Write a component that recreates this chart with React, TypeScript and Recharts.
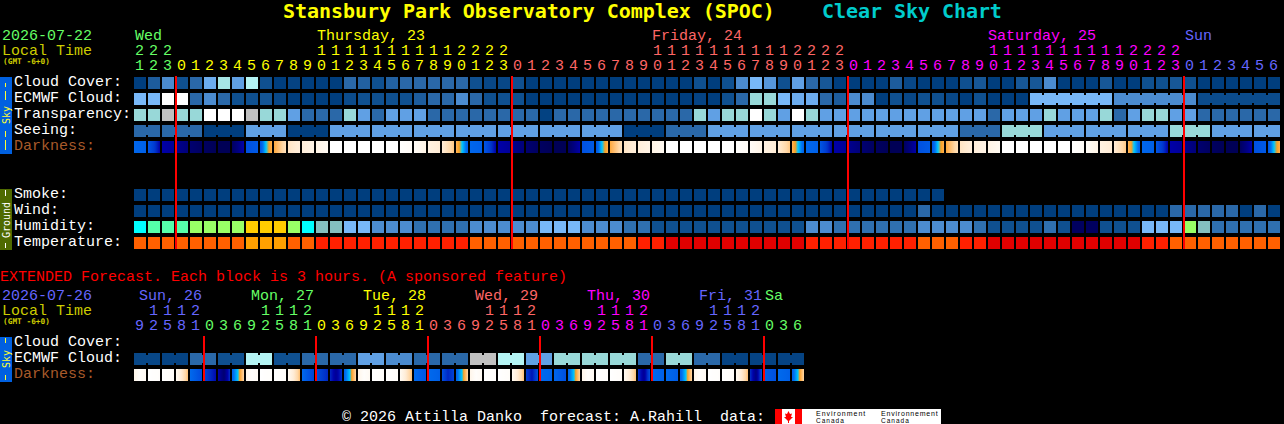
import React from "react";
import { ScatterChart, Scatter, XAxis, YAxis, ReferenceLine } from "recharts";

/* ---------- hours and day captions ---------- */
const mainHours = [21,22,23,0,1,2,3,4,5,6,7,8,9,10,11,12,13,14,15,16,17,18,19,20,21,22,23,0,1,2,3,4,5,6,7,8,9,10,11,12,13,14,15,16,17,18,19,20,21,22,23,0,1,2,3,4,5,6,7,8,9,10,11,12,13,14,15,16,17,18,19,20,21,22,23,0,1,2,3,4,5,6];
const extHours = [9,12,15,18,21,0,3,6,9,12,15,18,21,0,3,6,9,12,15,18,21,0,3,6,9,12,15,18,21,0,3,6,9,12,15,18,21,0,3,6,9,12,15,18,21,0,3,6];
const mainDayCols = [0,13,37,61,75];
const mainDayNames = ["Wed","Thursday, 23","Friday, 24","Saturday, 25","Sun"];
const mainDayStarts = [0,3,27,51,75];
const extDayCols = [0,8,16,24,32,40,45];
const extDayNames = ["Sun, 26","Mon, 27","Tue, 28","Wed, 29","Thu, 30","Fri, 31","Sa"];
const extDayStarts = [0,5,13,21,29,37,45];
const mainMidnights = [3,27,51,75];
const extMidnights = [5,13,21,29,37,45];

/* ---------- sky rows, values are cloud-scale levels ---------- */
const cloudCover = [0,1.5,3,1,2,4.5,6.5,4,7,1,0,0.3,0,0,0,2,1.7,1,1.7,2,2,2,2,2,1,0.5,0.5,1,0,0,0,0,0,0,0,0,0,0,0,0,1,0,1,3,5,3.5,1,4,2,1.3,0,0,0,0,1.5,0.5,0,0,0,1,1.3,0,0,1.3,1.3,3,0,0,0,1.3,0,0,1,1,1.3,1,0,0,0,0,0,0];
const ecmwfCloud = [5,5,8,8,2,3,2,1,1,1.2,0.5,0,0,0,0,0.7,1,1,1,1,1.5,2,2,3,2,1,1,1,0,0,0,0,0,0,0,0,0,0,0,0,0.3,0,1,2,6,6,5,4.5,4.5,2,1.5,3,3,0,1,0.5,1,1,0.5,0,1,0,0,0,5,5,5,5,5,5,3,3,3,3,3,3,0.7,0.7,0.7,0.7,0.7,0.7];
const ecmwfRuns = [1,1,1,1,1,1,1,1,1,1,1,1,1,1,1,1,1,1,1,1,1,1,1,1,1,1,1,1,1,1,1,1,1,1,1,1,1,1,1,1,1,1,1,1,1,1,1,1,1,1,1,1,1,1,1,1,1,1,1,1,1,1,1,1,6,6,6];
const transparency = [6,6,9,6,6,8,8,8,9,6,6,4,2,2,2,6,4,2,4,4,4,2,2,2,2,2,2,2,2,0.2,2,2,2,2,2,2,2,2,2,2,6,4,6,6,8,6,4,8,6,4,4,4,4,4,4,4,4,4,4,4,4,2,4,4,4,6,4,4,4,6,2,4,6,6,4,4,2,2,2,2,2,2];
const seeing = [2,2,2,2,2,0,0,0,4,4,4,0,0,0,4,4,4,4,4,4,4,4,4,4,4,4,4,4,4,4,4,4,4,4,4,0,0,0,2,2,2,4,4,4,4,4,4,4,4,4,4,4,4,4,4,4,4,4,4,2,2,2,6,6,6,4,4,4,4,4,4,4,4,4,6,6,6,4,4,4,4,4];
const seeingRuns = [2,3,3,3,3,3,3,3,3,3,3,3,3,3,3,3,3,3,3,3,3,3,3,3,3,3,3,2];
/* darkness: samples across one block, 0 = full sun, 12 = moonless night */
const darkness = [
  [6.3,6.5],[6.8,7.6,9],[9,9.4],[9.6,10.2],[10.5,11],[11,11.4],[11.4,11.4],[11,10,9],[7,6.7],[6.9,5,4],[4.2,2.6],[2.4,1.8],[1.8,1.2],[1.2,0.6],[0,0],[0,0],[0,0],[0,0],[0,0],[0.1,0.4],[0.4,1.2],[1.4,2],[2,3.4],[3.9,5,6.5],
  [6.3,6.5],[6.8,7.6,9],[9,9.4],[9.6,10.2],[10.5,11],[11,11.4],[11.4,11.4],[11,10,9],[7,6.7],[6.9,5,4],[4.2,2.6],[2.4,1.8],[1.8,1.2],[1.2,0.6],[0,0],[0,0],[0,0],[0,0],[0,0],[0.1,0.4],[0.4,1.2],[1.4,2],[2,3.4],[3.9,5,6.5],
  [6.3,6.5],[6.8,7.6,9],[9,9.4],[9.6,10.2],[10.5,11],[11,11.4],[11.4,11.4],[11,10,9],[7,6.7],[6.9,5,4],[4.2,2.6],[2.4,1.8],[1.8,1.2],[1.2,0.6],[0,0],[0,0],[0,0],[0,0],[0,0],[0.1,0.4],[0.4,1.2],[1.4,2],[2,3.4],[3.9,5,6.5],
  [6.3,6.5],[6.8,7.6,9],[9,9.4],[9.6,10.2],[10.5,11],[11,11.4],[11.4,11.4],[11,10,9],[7,6.7],[6.9,5,4],
];

/* ---------- ground rows ---------- */
const smoke = [0,0,0,0,0,0,0,0,0,0,0,0,0,0,0,0,0,0,0,0,0,0,0,0,0,0,0,0,0,0,0,0,0,0,0,0,0,0,0,0,0,0,0,0,0,0,0,0,0,0,0,0,0,0,0,0,0,0];
const wind = [0,0,0,0,0,0,0,0,0,0,0,0,0,0,0,0,0,0,0,0,0,0,0,0,0,0,0,0,0,0,0,0,0,0,0,0,0,0,0,0,0,0,0,0,0,0,0,0,0,0,0,0,0,0,0,0,2,0,0,0,0,0,0,0,0,0,0,0,0,0,0,0,0,0,2,2,2,2,2,0,2,0];
const humidity = [6,7,7,7,8,8,8,8,9,9,9,8,6,5,5,4,4,3,3,3,2,2,2,2,3,3,3,3,3,4,4,4,3,3,3,2,2,1,1,1,1,1,1,1,1,1,1,1,3,3,2,2,2,2,2,2,3,3,3,3,2,1,1,1,1,2,1,0,0,1,1,1,4,4,4,8,5,2,2,2,2,2];
const temperature = [2,2,2,2,2,2,2,2,3,3,3,2,2,1,1,1,1,1,1,1,1,1,1,1,2,2,2,2,2,2,2,2,2,2,2,2,1,1,0,0,0,0,0,0,0,0,0,0,1,1,1,1,1,1,1,1,2,2,2,1,1,0,0,0,0,0,0,0,0,0,0,0,1,1,2,2,2,2,2,2,2,2];

/* ---------- extended forecast ---------- */
const extEcmwf = [0.5,0.5,0.3,0.3,2,2,1,1,7,7,1,1,2,2,2,2,4,4,3,3,2,2,2,2,9,9,7,7,4,4,6,6,6,6,6,6,2,2,6,6,2,2,0.3,0.3,0.3,0.3,0.3,0.3];
const extEcmwfRuns = [2,2,2,2,2,2,2,2,2,2,2,2,2,2,2,2,2,2,2,2,2,2,2,2];
const extDarkness = [
  [1,0.2,0.6],[0,0.2],[0,0.3],[0.6,3.6],[6.2,7.2],[7.4,8.8],[9,10.5,8],[6.4,5,3],
  [1,0.2,0.6],[0,0.2],[0,0.3],[0.6,3.6],[6.2,7.4],[7,8.2],[8.2,9.5,8],[6.4,5,3],
  [1,0.2,0.6],[0,0.2],[0,0.3],[0.6,3.6],[6.2,6.8],[6.2,6.5],[7,8.2,7.4],[6.4,5,3],
  [1,0.2,0.6],[0,0.2],[0,0.3],[0.6,3.6],[7.6,8.6,7],[6.2,6.4],[6.3,7],[6.4,5,3],
  [1,0.2,0.6],[0,0.2],[0,0.3],[0.6,3.6],[8,9.5,7],[6.2,6.5],[6.2,6.6],[6.5,5,3],
  [1,0.2,0.6],[0,0.2],[0,0.3],[0.6,3.6],[8,10,7],[6.5,7],[6.2,6.5],[6.5,5,3],
];

/* ---------- palettes ---------- */
const cloudPalette = ["#003e7e","#0f5090","#2a68a8","#4b8bcf","#60a0e4","#78b8f8","#98d8d8","#b4f4f4","#ffffff","#c0c0c0"];
const humidityPalette = ["#00005f","#0f5090","#2f70b0","#4c8cd0","#78b8f8","#84bfbf","#00ffff","#55ffaa","#99ff66","#ffcc00"];
const temperaturePalette = ["#e00000","#ff2000","#ff6000","#ffa000"];
const darknessStops: [number, string][] = [[0,"#ffffff"],[1,"#fff6ea"],[2,"#ffecd6"],[3,"#ffd8a8"],[4,"#ffb050"],[4.5,"#f8a020"],[5,"#00c8ff"],[6,"#0070f0"],[7,"#0050e0"],[8,"#0030c8"],[9,"#0000a8"],[10,"#000080"],[11,"#000060"],[12,"#000048"]];
const mainDayColors = ["#66ff66","#ffff00","#ff6666","#ff00ff","#6666ff"];
const extDayColors = ["#6666ff","#66ff66","#ffff00","#ff6666","#ff00ff","#6666ff","#66ff66"];

const MONO = '"Liberation Mono", monospace';
const DEJA = '"DejaVu Sans Mono", monospace';
const FS = 15;

const rgb = (h: string) => [1, 3, 5].map((k) => parseInt(h.slice(k, k + 2), 16));
const mix = (a: string, b: string, t: number) => {
  const A = rgb(a), B = rgb(b);
  return `rgb(${A.map((v, i) => Math.round(v + (B[i] - v) * t)).join(",")})`;
};
const levelColor = (p: string[], v: number) => {
  const lo = Math.floor(v);
  return lo === v ? p[v] : mix(p[lo], p[lo + 1], v - lo);
};
const darkColor = (v: number) => {
  for (let i = 1; i < darknessStops.length; i++) {
    const [a, ca] = darknessStops[i - 1];
    const [b, cb] = darknessStops[i];
    if (v <= b) return mix(ca, cb, (v - a) / (b - a));
  }
  return darknessStops[darknessStops.length - 1][1];
};
const gradientStops = (samples: number[]) => {
  const out: { o: number; c: string }[] = [];
  const N = 10;
  for (let s = 0; s < samples.length - 1; s++) {
    for (let k = 0; k <= N; k++) {
      const t = k / N;
      out.push({
        o: ((s + t) / (samples.length - 1)) * 100,
        c: darkColor(samples[s] + (samples[s + 1] - samples[s]) * t),
      });
    }
  }
  return out;
};

const joinsFromRuns = (runs: number[]) => {
  const j: boolean[] = [];
  runs.forEach((r) => {
    for (let i = 0; i < r; i++) j.push(i < r - 1);
  });
  return j;
};

const levelRow = (row: number, values: number[], palette: string[], runs?: number[]) => {
  const joins = runs ? joinsFromRuns(runs) : [];
  return values.map((value, col) => ({
    col,
    row,
    fill: levelColor(palette, value),
    joined: !!joins[col],
  }));
};
const darkRow = (row: number, samples: number[][]) =>
  samples.map((s, col) => ({ col, row, samples: s, joined: false }));

const CELL = 12;
const Block = (id: string) => (props: any) => {
  const { cx, cy, payload } = props;
  if (cx == null || cy == null) return <g />;
  const x = cx - CELL / 2;
  const y = cy - CELL / 2;
  if (payload.samples) {
    const gid = `${id}-${payload.col}`;
    return (
      <g>
        <defs>
          <linearGradient id={gid} x1="0" y1="0" x2="1" y2="0">
            {gradientStops(payload.samples).map((s, i) => (
              <stop key={i} offset={`${s.o}%`} stopColor={s.c} />
            ))}
          </linearGradient>
        </defs>
        <rect x={x} y={y} width={CELL} height={CELL} fill={`url(#${gid})`} />
      </g>
    );
  }
  return (
    <g>
      <rect x={x} y={y} width={CELL} height={CELL} fill={payload.fill} />
      {payload.joined && <rect x={x + CELL} y={y + 2} width={2} height={8} fill={payload.fill} />}
    </g>
  );
};

const colorAt = (col: number, starts: number[], colors: string[]) => {
  let c = colors[0];
  starts.forEach((s, i) => {
    if (col >= s) c = colors[i];
  });
  return c;
};

const HourTick =
  (hours: number[], starts: number[], colors: string[], dayCols: number[], dayNames: string[], dayInsets: number[]) =>
  (props: any) => {
    const col = props.payload.value as number;
    const x = props.x as number;
    const h = hours[col];
    const color = colorAt(col, starts, colors);
    const dayIdx = dayCols.indexOf(col);
    const common = { fontFamily: MONO, fontSize: FS, fill: color };
    return (
      <g>
        {dayIdx >= 0 && (
          <text {...common} x={x - 6 + dayInsets[dayIdx]} y={39.5} fill={colors[dayIdx]}>
            {dayNames[dayIdx]}
          </text>
        )}
        {h >= 10 && (
          <text {...common} x={x - 0.5} y={54.5} textAnchor="middle">
            {Math.floor(h / 10)}
          </text>
        )}
        <text {...common} x={x - 0.5} y={69.5} textAnchor="middle">
          {h % 10}
        </text>
      </g>
    );
  };

const RowTick = (labels: Record<number, string>) => (props: any) => {
  const v = props.payload.value as number;
  const text = labels[v];
  return (
    <text
      x={14}
      y={(props.y as number) + 3}
      fontFamily={MONO}
      fontSize={FS}
      fill={text === "Darkness:" ? "#a85a2a" : "#ffffff"}
    >
      {text}
    </text>
  );
};

const range = (n: number) => Array.from({ length: n }, (_, i) => i);

const mainLabels: Record<number, string> = {
  0: "Cloud Cover:", 1: "ECMWF Cloud:", 2: "Transparency:", 3: "Seeing:", 4: "Darkness:",
  7: "Smoke:", 8: "Wind:", 9: "Humidity:", 10: "Temperature:",
};
const extLabels: Record<number, string> = { 0: "Cloud Cover:", 1: "ECMWF Cloud:", 2: "Darkness:" };

const mainRows = [
  levelRow(0, cloudCover, cloudPalette),
  levelRow(1, ecmwfCloud, cloudPalette, ecmwfRuns),
  levelRow(2, transparency, cloudPalette),
  levelRow(3, seeing, cloudPalette, seeingRuns),
  darkRow(4, darkness),
  levelRow(7, smoke, cloudPalette),
  levelRow(8, wind, cloudPalette),
  levelRow(9, humidity, humidityPalette),
  levelRow(10, temperature, temperaturePalette),
];
const extRows = [levelRow(1, extEcmwf, cloudPalette, extEcmwfRuns), darkRow(2, extDarkness)];

const MIDNIGHT_SHIFT = 3 / 7;

function HeatChart(props: {
  top: number; height: number; cols: number; rowsMax: number; rowTicks: number[]; labels: Record<number, string>;
  rows: any[][]; hours: number[]; starts: number[]; colors: string[]; dayCols: number[]; dayNames: string[];
  dayInsets: number[]; midnights: number[]; id: string;
}) {
  const { top, height, cols, rowsMax, rowTicks, labels, rows, hours, starts, colors, dayCols, dayNames, dayInsets, midnights, id } = props;
  const right = 1284 - (133 + cols * 14);
  return (
    <div style={{ position: "absolute", left: 0, top }}>
      <ScatterChart width={1284} height={height} margin={{ top: 0, right, bottom: 0, left: 0 }}>
        <XAxis
          type="number"
          dataKey="col"
          orientation="top"
          height={75}
          domain={[-0.5, cols - 0.5]}
          ticks={range(cols)}
          interval={0}
          axisLine={false}
          tickLine={false}
          tick={HourTick(hours, starts, colors, dayCols, dayNames, dayInsets)}
        />
        <YAxis
          type="number"
          dataKey="row"
          reversed
          width={133}
          domain={[-0.5, rowsMax + 0.5]}
          ticks={rowTicks}
          interval={0}
          axisLine={false}
          tickLine={false}
          tick={RowTick(labels)}
        />
        {rows.map((data, i) => (
          <Scatter key={i} data={data} isAnimationActive={false} shape={Block(`${id}${i}`)} />
        ))}
        {midnights.map((m) => (
          <ReferenceLine
            key={m}
            stroke="#ff0000"
            strokeWidth={2}
            zIndex={900}
            segment={[
              { x: m - MIDNIGHT_SHIFT, y: -0.4375 },
              { x: m - MIDNIGHT_SHIFT, y: rowsMax + 0.375 },
            ]}
          />
        ))}
      </ScatterChart>
    </div>
  );
}

const Txt = (p: any) => (
  <text fontFamily={MONO} fontSize={FS} style={{ whiteSpace: "pre" }} {...p} />
);

function Decorations() {
  const dash = (x: number, y1: number, y2: number, c: string, k: string) => (
    <line key={k} x1={x} x2={x} y1={y1} y2={y2} stroke={c} strokeWidth={1} />
  );
  return (
    <svg width={1284} height={424} style={{ position: "absolute", left: 0, top: 0 }}>
      <text x={283} y={18} fontFamily={DEJA} fontSize={20} letterSpacing={-0.05} fontWeight="bold" fill="#ffff00" style={{ whiteSpace: "pre" }}>
        Stansbury Park Observatory Complex (SPOC)
      </text>
      <text x={822} y={18} fontFamily={DEJA} fontSize={20} letterSpacing={-0.05} fontWeight="bold" fill="#00cccc">
        Clear Sky Chart
      </text>

      <Txt x={2} y={39.5} fill="#66ff66">2026-07-22</Txt>
      <Txt x={2} y={54.5} fill="#cccc00">Local Time</Txt>
      <text x={3} y={64} fontFamily={DEJA} fontSize={7.8} fontWeight="bold" fill="#cccc00">(GMT -6+0)</text>

      <rect x={0} y={77} width={12} height={77} fill="#0060e0" />
      {dash(5.5, 83, 87, "#ffff33", "a")}
      {dash(5.5, 91, 100, "#ffff33", "b")}
      {dash(5.5, 131, 137, "#ffff33", "c")}
      {dash(5.5, 140, 150, "#ffff33", "d")}
      <text transform="translate(9.5,124) rotate(-90)" fontFamily={DEJA} fontSize={10} fill="#ffff33">Sky</text>

      <rect x={0} y={189} width={12} height={61} fill="#4f6a00" />
      {dash(5.5, 190, 196, "#ffffff", "e")}
      {dash(5.5, 243, 248, "#ffffff", "f")}
      <text transform="translate(9.5,238) rotate(-90)" fontFamily={DEJA} fontSize={10} fill="#ffffff">Ground</text>

      <Txt x={0} y={281} fill="#ff0000">
        EXTENDED Forecast. Each block is 3 hours. (A sponsored feature)
      </Txt>

      <Txt x={2} y={299.5} fill="#6666ff">2026-07-26</Txt>
      <Txt x={2} y={314.5} fill="#cccc00">Local Time</Txt>
      <text x={3} y={324} fontFamily={DEJA} fontSize={7.8} fontWeight="bold" fill="#cccc00">(GMT -6+0)</text>

      <rect x={0} y={337} width={12} height={45} fill="#0060e0" />
      {dash(5.5, 338, 343, "#ffff33", "g")}
      {dash(5.5, 375, 380, "#ffff33", "h")}
      <text transform="translate(9.5,368) rotate(-90)" fontFamily={DEJA} fontSize={10} fill="#ffff33">Sky</text>

      <Txt x={342} y={420.5} fill="#ffffff">
        {"© 2026 Attilla Danko  forecast: A.Rahill  data:"}
      </Txt>

      <rect x={775} y={409} width={166} height={15} fill="#ffffff" />
      <rect x={775} y={409} width={7} height={15} fill="#ff0000" />
      <rect x={795} y={409} width={7} height={15} fill="#ff0000" />
      <polygon points="788.5,411 790,414 792,413.5 791,417 793,417 789,421 789,423 788,423 788,421 784,417 786,417 785,413.5 787,414" fill="#ff0000" />
      <text x={816} y={415.5} fontFamily="Liberation Sans" fontSize={7} letterSpacing={1} fill="#000">Environment</text>
      <text x={816} y={423} fontFamily="Liberation Sans" fontSize={6.5} letterSpacing={1} fill="#000">Canada</text>
      <text x={881} y={415.5} fontFamily="Liberation Sans" fontSize={7} letterSpacing={0.8} fill="#000">Environnement</text>
      <text x={881} y={423} fontFamily="Liberation Sans" fontSize={6.5} letterSpacing={1} fill="#000">Canada</text>
    </svg>
  );
}

export default function App() {
  return (
    <div style={{ position: "absolute", left: 0, top: 0, width: 1284, height: 424, background: "#000", overflow: "hidden" }}>
      <Decorations />
      <HeatChart
        id="m"
        top={0}
        height={251}
        cols={82}
        rowsMax={10}
        rowTicks={[0, 1, 2, 3, 4, 7, 8, 9, 10]}
        labels={mainLabels}
        rows={mainRows}
        hours={mainHours}
        starts={mainDayStarts}
        colors={mainDayColors}
        dayCols={mainDayCols}
        dayNames={mainDayNames}
        dayInsets={[1, 1, 0, 0, 1]}
        midnights={mainMidnights}
      />
      <HeatChart
        id="e"
        top={260}
        height={123}
        cols={48}
        rowsMax={2}
        rowTicks={[0, 1, 2]}
        labels={extLabels}
        rows={extRows}
        hours={extHours}
        starts={extDayStarts}
        colors={extDayColors}
        dayCols={extDayCols}
        dayNames={extDayNames}
        dayInsets={[5, 5, 5, 5, 5, 5, 1]}
        midnights={extMidnights}
      />
    </div>
  );
}
